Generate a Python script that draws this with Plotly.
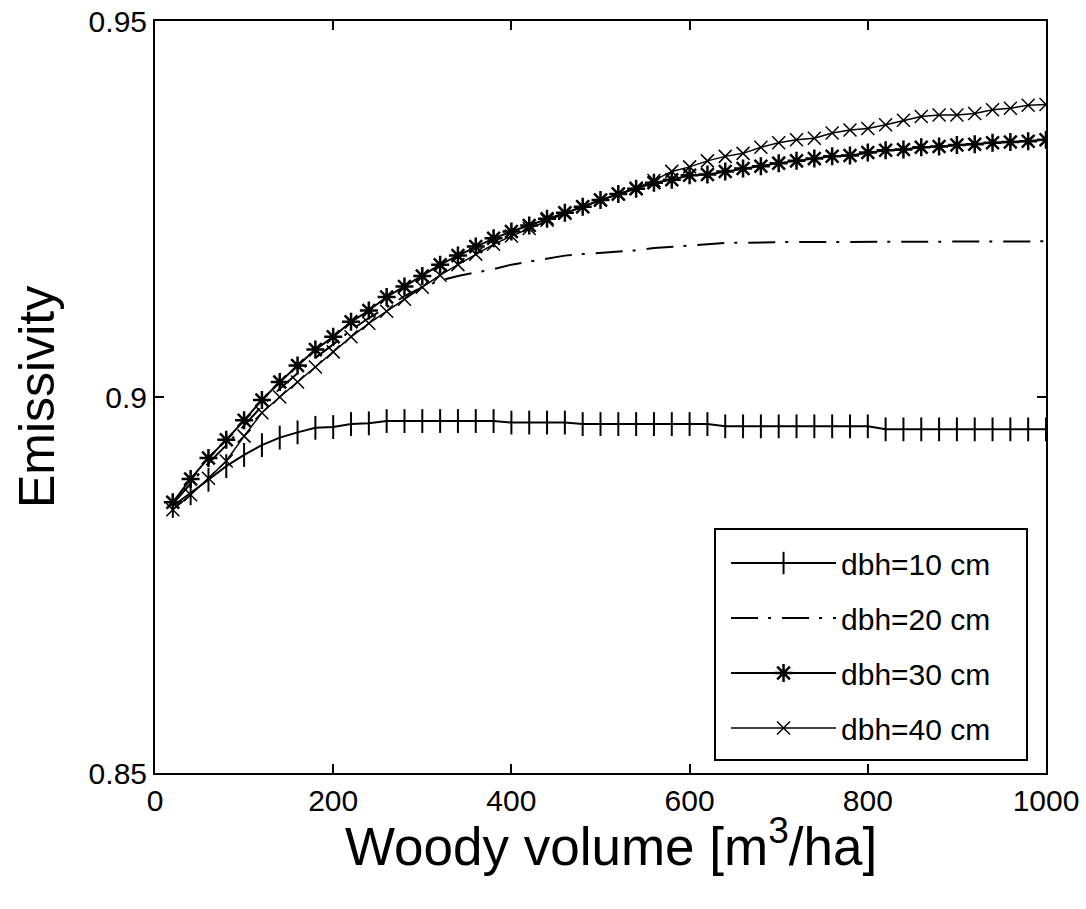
import plotly.graph_objects as go

volume = [20, 40, 60, 80, 100, 120, 140, 160, 180, 200, 220, 240, 260, 280, 300,
          320, 340, 360, 380, 400, 420, 440, 460, 480, 500, 520, 540, 560, 580, 600,
          620, 640, 660, 680, 700, 720, 740, 760, 780, 800, 820, 840, 860, 880, 900,
          920, 940, 960, 980, 1000]

dbh10 = [0.8855, 0.8872, 0.8890, 0.8908, 0.8923, 0.8936, 0.8946, 0.8953, 0.8959, 0.8960,
         0.8964, 0.8965, 0.8968, 0.8968, 0.8968, 0.8968, 0.8968, 0.8968, 0.8968, 0.8966,
         0.8966, 0.8966, 0.8966, 0.8964, 0.8964, 0.8964, 0.8964, 0.8964, 0.8964, 0.8964,
         0.8964, 0.8961, 0.8961, 0.8961, 0.8961, 0.8961, 0.8961, 0.8961, 0.8961, 0.8961,
         0.8957, 0.8957, 0.8957, 0.8957, 0.8957, 0.8957, 0.8957, 0.8957, 0.8957, 0.8957]

dbh20 = [0.8858, 0.8885, 0.8912, 0.8936, 0.8962, 0.8988, 0.9011, 0.9032, 0.9052, 0.9070,
         0.9089, 0.9105, 0.9120, 0.9134, 0.9146, 0.9155, 0.9161, 0.9165, 0.9170, 0.9176,
         0.9180, 0.9184, 0.9188, 0.9190, 0.9192, 0.9193, 0.9195, 0.9198, 0.9200, 0.9202,
         0.9204, 0.9205, 0.9205, 0.9206, 0.9206, 0.9206, 0.9206, 0.9206, 0.9207, 0.9207,
         0.9207, 0.9207, 0.9207, 0.9207, 0.9207, 0.9207, 0.9207, 0.9207, 0.9207, 0.9207]

dbh30 = [0.8860, 0.8891, 0.8919, 0.8943, 0.8969, 0.8996, 0.9020, 0.9042, 0.9063, 0.9080,
         0.9100, 0.9115, 0.9133, 0.9147, 0.9161, 0.9176, 0.9188, 0.9200, 0.9211, 0.9220,
         0.9228, 0.9237, 0.9245, 0.9253, 0.9262, 0.9270, 0.9277, 0.9285, 0.9289, 0.9295,
         0.9296, 0.9300, 0.9304, 0.9307, 0.9311, 0.9314, 0.9317, 0.9320, 0.9321, 0.9325,
         0.9328, 0.9329, 0.9332, 0.9333, 0.9335, 0.9336, 0.9338, 0.9339, 0.9340, 0.9342]

dbh40 = [0.8850, 0.8870, 0.8892, 0.8915, 0.8948, 0.8979, 0.9000, 0.9020, 0.9040, 0.9060,
         0.9080, 0.9098, 0.9114, 0.9130, 0.9146, 0.9162, 0.9176, 0.9190, 0.9203, 0.9214,
         0.9224, 0.9235, 0.9244, 0.9253, 0.9262, 0.9270, 0.9278, 0.9288, 0.9300, 0.9306,
         0.9314, 0.9320, 0.9324, 0.9332, 0.9338, 0.9342, 0.9344, 0.9351, 0.9355, 0.9357,
         0.9362, 0.9368, 0.9373, 0.9375, 0.9375, 0.9377, 0.9382, 0.9384, 0.9388, 0.9389]

names = ["dbh=10 cm", "dbh=20 cm", "dbh=30 cm", "dbh=40 cm"]
x_ticks = [0, 200, 400, 600, 800, 1000]
y_ticks = [0.85, 0.9, 0.95]
y_ticktext = ["0.85", "0.9", "0.95"]

FONT = "Liberation Sans, Arial, sans-serif"

fig = go.Figure()
fig.add_trace(go.Scatter(
    x=volume, y=dbh10, name=names[0], mode="lines+markers", legendgroup="a",
    line=dict(color="black", width=2),
    marker=dict(symbol="line-ns", size=17, color="black",
                line=dict(color="black", width=2))))
fig.add_trace(go.Scatter(
    x=volume, y=dbh20, name=names[1], mode="lines", legendgroup="b",
    line=dict(color="black", width=2, dash="27px,10px,3px,11px")))
fig.add_trace(go.Scatter(
    x=volume, y=dbh30, name=names[2], mode="lines+markers", legendgroup="c",
    line=dict(color="black", width=2),
    marker=dict(symbol="asterisk-open", size=15, color="black",
                line=dict(color="black", width=2.5))))
fig.add_trace(go.Scatter(
    x=volume, y=dbh40, name=names[3], mode="lines+markers", legendgroup="d",
    line=dict(color="black", width=1.5),
    marker=dict(symbol="x-thin-open", size=13, color="black",
                line=dict(color="black", width=1.5))))

axis_common = dict(
    showline=True, linecolor="black", linewidth=2, mirror="ticks",
    ticks="inside", ticklen=9, tickwidth=2, tickcolor="black",
    showgrid=False, zeroline=False, automargin=False,
    tickfont=dict(family=FONT, size=30, color="black"),
)

fig.update_xaxes(range=[0, 1000], tickvals=x_ticks,
                 ticktext=[str(v) for v in x_ticks], **axis_common)
fig.update_yaxes(range=[0.85, 0.95], tickvals=y_ticks,
                 ticktext=y_ticktext, **axis_common)

# axis titles
fig.add_annotation(text="Woody volume [m<sup>3</sup>/ha]", xref="paper", yref="paper",
                   x=0.512, y=-0.093, xanchor="center", yanchor="middle",
                   showarrow=False, font=dict(family=FONT, size=53, color="black"))
fig.add_annotation(text="Emissivity", xref="paper", yref="paper",
                   x=-0.1324, y=0.5, xanchor="center", yanchor="middle", textangle=-90,
                   showarrow=False, font=dict(family=FONT, size=50, color="black"))

# legend box
fig.add_shape(type="rect", xref="paper", yref="paper",
              x0=0.6285, x1=0.9787, y0=0.0173, y1=0.3245,
              line=dict(color="black", width=2), fillcolor="white", layer="below")

fig.update_layout(
    width=1086, height=909,
    margin=dict(l=155, r=40, t=21, b=136),
    paper_bgcolor="white", plot_bgcolor="white",
    showlegend=True,
    legend=dict(x=0.6409, y=0.3138, xanchor="left", yanchor="top",
                bgcolor="rgba(0,0,0,0)", borderwidth=0,
                font=dict(family=FONT, size=30, color="black"),
                itemwidth=105, tracegroupgap=13, traceorder="grouped"),
)

fig.write_html("out.html")
